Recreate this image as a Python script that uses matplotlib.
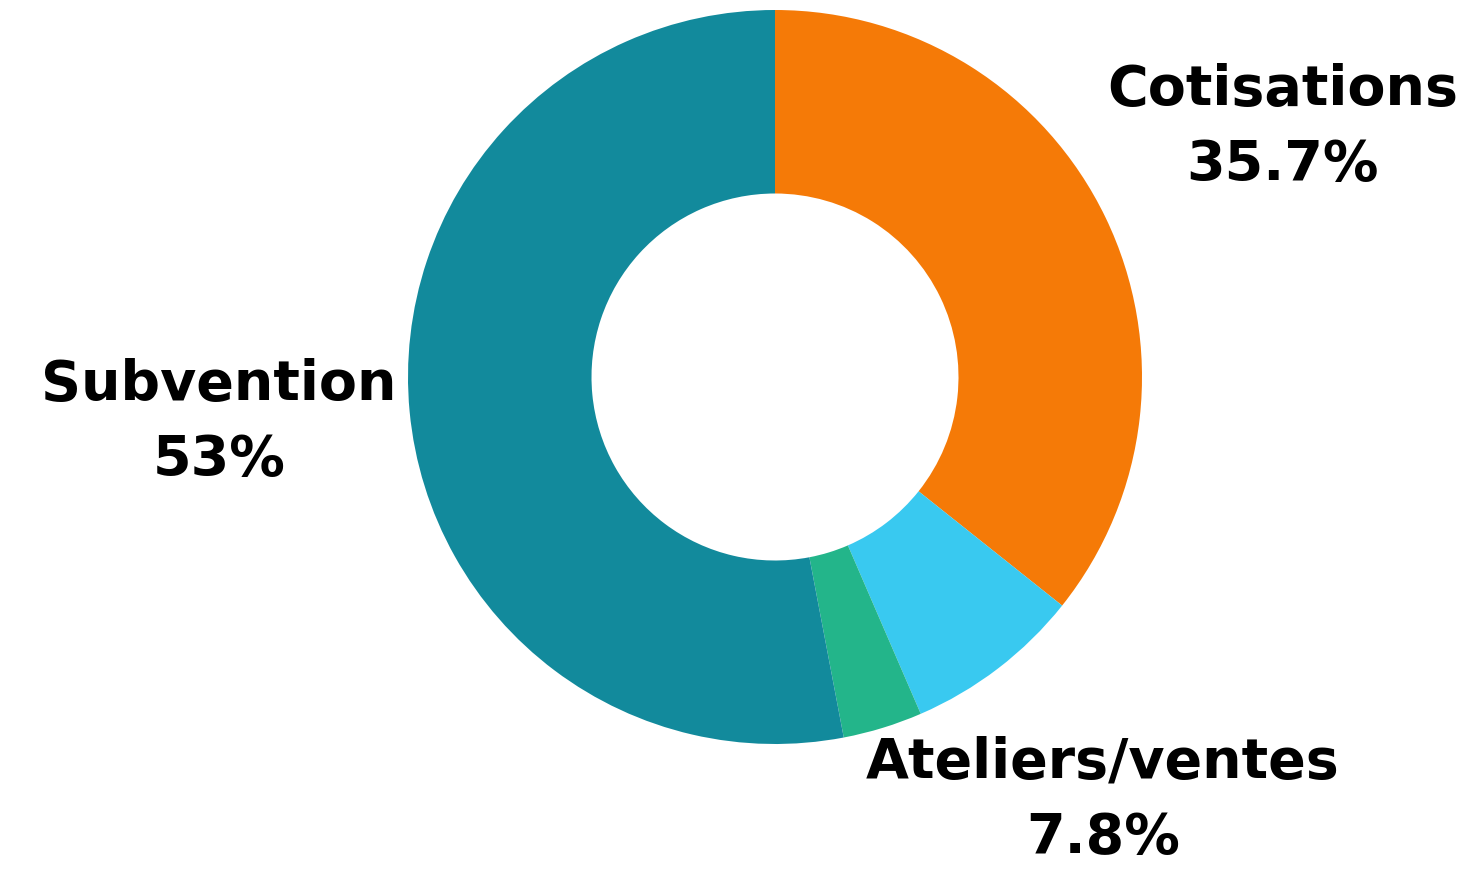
import matplotlib
matplotlib.use("Agg")
import matplotlib.pyplot as plt

categories = ["Cotisations", "Ateliers/ventes", "Autre", "Subvention"]
values = [35.7, 7.8, 3.5, 53.0]
labels = ["Cotisations\n35.7%", "Ateliers/ventes\n7.8%", None, "Subvention\n53%"]
colors = ["#F57A07", "#39C9F0", "#23B58A", "#128A9C"]

W, H = 1480, 876
fig = plt.figure(figsize=(W / 100, H / 100), dpi=100)
cx, cy, R = 775, 377, 367
ax = fig.add_axes([(cx - R) / W, (H - cy - R) / H, 2 * R / W, 2 * R / H])
ax.pie(values, colors=colors, startangle=90, counterclock=False, radius=1.0,
       wedgeprops=dict(width=0.5, linewidth=0))
ax.set_xlim(-1, 1)
ax.set_ylim(-1, 1)
ax.set_aspect("equal")
ax.axis("off")

label_pos = {0: (1.384, 0.681), 1: (0.894, -1.153), 3: (-1.515, -0.123)}
for i, lab in enumerate(labels):
    if lab is None:
        continue
    x, y = label_pos[i]
    ax.text(x, y, lab, ha="center", va="center", fontsize=40, fontweight="bold",
            family=["DejaVu Sans"], color="black", linespacing=1.5, clip_on=False)

fig.savefig("out.png", dpi=100)
